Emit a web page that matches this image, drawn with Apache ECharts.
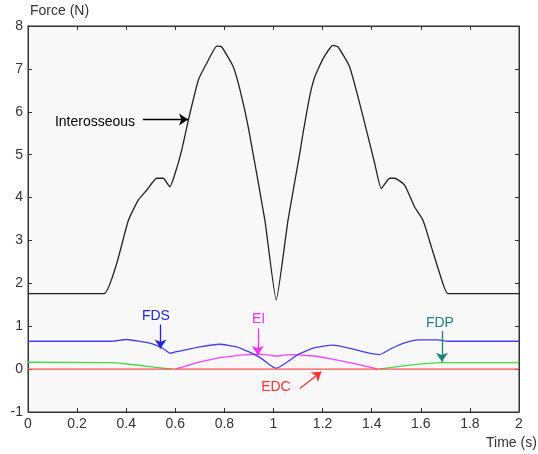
<!DOCTYPE html>
<html>
<head>
<meta charset="utf-8">
<script src="https://cdn.jsdelivr.net/npm/echarts@6/dist/echarts.min.js"></script>
<style>
  html, body { margin: 0; padding: 0; background: #fff; }
  #chart { width: 538px; height: 454px; }
</style>
</head>
<body>
<div id="chart"></div>
<script>
// muscle forces (time in s, force in N)
var interT = [0, 0.31, 0.361, 0.409, 0.449, 0.483, 0.524, 0.551, 0.578, 0.599, 0.626, 0.653, 0.694, 0.728, 0.769, 0.789, 0.836, 0.864, 0.897, 0.965, 1.011, 1.059, 1.107, 1.12, 1.147, 1.168, 1.202, 1.242, 1.263, 1.31, 1.358, 1.412, 1.439, 1.473, 1.494, 1.534, 1.575, 1.609, 1.643, 1.677, 1.711, 2];
var interF = [1.76, 1.76, 2.46, 3.47, 3.94, 4.17, 4.45, 4.45, 4.25, 4.56, 5.1, 5.8, 6.74, 7.13, 7.53, 7.51, 7.05, 6.5, 5.65, 3.47, 1.61, 3.47, 5.03, 5.49, 6.35, 6.81, 7.24, 7.55, 7.51, 7.05, 6.04, 4.8, 4.21, 4.45, 4.45, 4.29, 3.78, 3.47, 2.85, 2.23, 1.76, 1.76];

var fdsT = [0, 0.34, 0.4, 0.5, 0.55, 0.58, 0.6, 0.7, 0.78, 0.85, 0.9, 0.95, 0.99, 1.011, 1.1, 1.168, 1.242, 1.317, 1.385, 1.432, 1.48, 1.534, 1.589, 1.67, 1.71, 2];
var fdsF = [0.65, 0.65, 0.69, 0.6, 0.48, 0.37, 0.4, 0.52, 0.58, 0.52, 0.4, 0.25, 0.08, 0.02, 0.34, 0.5, 0.56, 0.48, 0.38, 0.34, 0.48, 0.61, 0.68, 0.68, 0.65, 0.65];

// FDP is zero (hidden under EDC) between the two pieces
var fdpT = [0, 0.35, 0.45, 0.52, 0.59, null, 1.43, 1.52, 1.6, 1.68, 2];
var fdpF = [0.16, 0.15, 0.09, 0.04, 0, null, 0, 0.07, 0.12, 0.15, 0.15];

var eiT = [0.6, 0.7, 0.782, 0.877, 0.932, 0.978, 1.011, 1.052, 1.086, 1.174, 1.25, 1.331, 1.426];
var eiF = [0, 0.17, 0.27, 0.33, 0.35, 0.33, 0.3, 0.33, 0.34, 0.3, 0.22, 0.13, 0];

var edcT = [0, 2];
var edcF = [0, 0];

// labels with arrows: text point, arrow start, arrow end (data units)
var labels = [
  { name: 'Interosseous', color: '#000', text: [0.273, 5.76], from: [0.468, 5.82], to: [0.652, 5.82] },
  { name: 'FDS', color: '#2323e0', text: [0.521, 1.24], from: [0.54, 1.04], to: [0.54, 0.48] },
  { name: 'EI', color: '#ff2aff', text: [0.939, 1.16], from: [0.936, 0.95], to: [0.936, 0.33] },
  { name: 'FDP', color: '#1f8080', text: [1.678, 1.07], from: [1.686, 0.89], to: [1.686, 0.17] },
  { name: 'EDC', color: '#ff3030', text: [1.01, -0.42], from: [1.107, -0.45], to: [1.195, -0.06] }
];

var FONT = '"Liberation Sans", Arial, sans-serif';

function pairs(t, f) {
  var out = [];
  for (var i = 0; i < t.length; i++) out.push(t[i] === null ? [null, null] : [t[i], f[i]]);
  return out;
}

function lineSeries(name, t, f, color, smooth) {
  return {
    name: name,
    type: 'line',
    data: pairs(t, f),
    showSymbol: false,
    smooth: smooth,
    connectNulls: false,
    lineStyle: { color: color, width: 1.3 },
    itemStyle: { color: color },
    silent: true
  };
}

var markSeries = {
  type: 'line',
  data: [],
  silent: true,
  markLine: {
    silent: true,
    symbol: ['none', 'arrow'],
    symbolSize: 9,
    label: { show: false },
    data: labels.map(function(l) {
      return [
        { coord: l.from, lineStyle: { color: l.color, width: 1.3, type: 'solid' }, itemStyle: { color: l.color } },
        { coord: l.to }
      ];
    })
  },
  markPoint: {
    silent: true,
    symbol: 'rect',
    symbolSize: 1,
    itemStyle: { color: 'rgba(0,0,0,0)' },
    data: labels.map(function(l) {
      return {
        name: l.name,
        coord: l.text,
        label: { show: true, position: 'inside', formatter: l.name, color: l.color, fontSize: 14, fontFamily: FONT }
      };
    })
  }
};

var axisCommon = {
  type: 'value',
  axisLine: { show: true, onZero: false, lineStyle: { color: '#333', width: 1 } },
  axisTick: { show: true, inside: true, length: 4, lineStyle: { color: '#333' } },
  splitLine: { show: false }
};

var chart = echarts.init(document.getElementById('chart'));
chart.setOption({
  animation: false,
  backgroundColor: '#fff',
  grid: { left: 28, right: 19, top: 26, bottom: 42, show: true, backgroundColor: '#f8f8f8', borderColor: '#333', borderWidth: 1 },
  xAxis: [
    Object.assign({}, axisCommon, {
      min: 0, max: 2, interval: 0.2, position: 'bottom',
      axisLabel: { color: '#333', fontSize: 14, fontFamily: FONT, margin: 5 }
    }),
    Object.assign({}, axisCommon, {
      min: 0, max: 2, interval: 0.2, position: 'top',
      axisLabel: { show: false }
    })
  ],
  yAxis: [
    Object.assign({}, axisCommon, {
      min: -1, max: 8, interval: 1, position: 'left',
      axisLabel: { color: '#333', fontSize: 14, fontFamily: FONT, margin: 5 }
    }),
    Object.assign({}, axisCommon, {
      min: -1, max: 8, interval: 1, position: 'right',
      axisLabel: { show: false }
    })
  ],
  graphic: [
    { type: 'text', left: 30, top: 4, style: { text: 'Force (N)', fill: '#333', font: '14px ' + FONT } },
    { type: 'text', left: 486, top: 436, style: { text: 'Time (s)', fill: '#333', font: '14px ' + FONT } }
  ],
  series: [
    lineSeries('FDP', fdpT, fdpF, '#44dd44', false),
    lineSeries('EI', eiT, eiF, '#ff40ff', false),
    lineSeries('FDS', fdsT, fdsF, '#4040ee', 0.15),
    lineSeries('EDC', edcT, edcF, '#ff5050', false),
    lineSeries('Interosseous', interT, interF, '#222', 0.15),
    markSeries
  ]
});
</script>
</body>
</html>
